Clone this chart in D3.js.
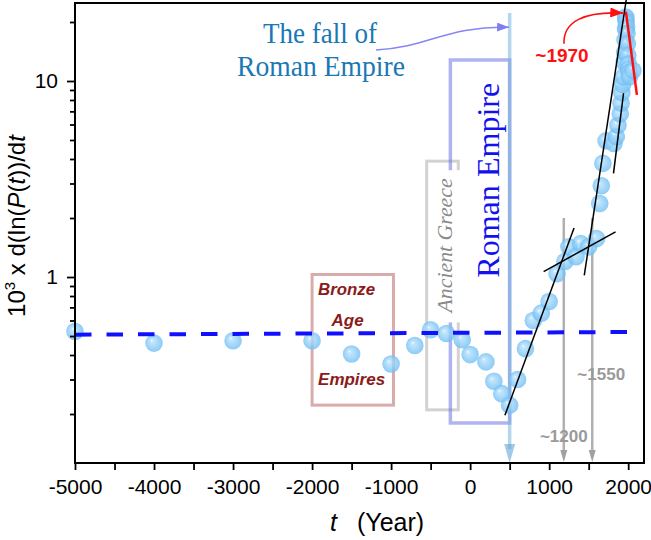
<!DOCTYPE html>
<html><head><meta charset="utf-8">
<script src="https://cdn.jsdelivr.net/npm/d3@7"></script>
<style>body{margin:0;background:#fff}svg{display:block}</style>
</head><body><svg id="c" width="651" height="540"></svg>
<script>
// ---- data ----
const years = [-5000,-4000,-3000,-2000,-1500,-1000,-700,-500,-300,-100,
  0,200,300,400,500,600,700,800,900,1000,
  1100,1200,1250,1340,1400,1500,1600,1640,1660,1680,
  1720,1820,1850,1870,1900,1910,1920,1930,1940,1950,
  1955,1960,1965,1968,1970,1975,1980,1985,1990,1995,
  2000,2005,2010,2015,2060];
const rates = [0.527,0.46,0.473,0.473,0.405,0.36,0.447,0.538,0.515,0.479,
  0.402,0.369,0.294,0.254,0.222,0.30,0.431,0.60,0.654,0.75,
  1.04,1.2,1.425,1.27,1.48,1.425,1.57,2.37,2.92,3.8,
  4.95,4.8,5.2,5.95,6.8,7.7,8.7,9.6,10.5,12.5,
  14,16.2,18.5,20.8,21.2,20.0,18.8,17.5,15.5,13.5,
  12.2,11.5,11,10.5,11.3];
const xTickValues = [-5000,-4000,-3000,-2000,-1000,0,1000,2000];
const yTickLabels = [1, 10];
const trendYears = [-5000, 2020];
const trendRates = [0.508, 0.524];
const fitA = [[440, 0.197], [1315, 1.78]];
const fitB = [[930, 1.065], [1840, 1.70]];
const fitC = [[1444, 1.02], [1975, 25.9]];
const fitD = [[1814, 3.38], [1941, 8.67]];
const fitRed = [[1971, 22.6], [2110, 8.5]];
const fallYear = 500;
const markerYears = [1185, 1545];
const romanBox = [[-250, 500], [0.18, 12.8]];
const greekBox = [[-550, -150], [0.21, 3.9]];
const bronzeBox = [[-2000, -970], [0.222, 1.03]];

// ---- scales ----
const svg = d3.select("#c");
const x = d3.scaleLinear().domain([-5000, 2200]).range([75, 644]);
const y = d3.scaleLog().domain([0.1125, 25]).range([463, 3]);
const SANS = "'Liberation Sans', Arial, sans-serif";
const SERIF = "'Liberation Serif', 'Times New Roman', serif";

const defs = svg.append("defs");
const grad = defs.append("radialGradient").attr("id","bub")
  .attr("cx","50%").attr("cy","50%").attr("r","50%").attr("fx","36%").attr("fy","34%");
grad.append("stop").attr("offset","0%").attr("stop-color","#ffffff");
grad.append("stop").attr("offset","16%").attr("stop-color","#b4e0fd");
grad.append("stop").attr("offset","100%").attr("stop-color","#6cbcf3");
function marker(id, color, w, h) {
  defs.append("marker").attr("id", id).attr("viewBox", `0 0 ${w} ${h}`)
    .attr("refX", w).attr("refY", h/2).attr("markerWidth", w).attr("markerHeight", h)
    .attr("markerUnits","userSpaceOnUse").attr("orient","auto")
    .append("path").attr("d", `M0,0L${w},${h/2}L0,${h}Z`).attr("fill", color);
}
marker("arRed", "#ff1010", 13, 10);
marker("arFall", "#7f7ff2", 12, 9);

// ---- boxes ----
function box(b, stroke, sw) {
  svg.append("rect").attr("x", x(b[0][0])).attr("y", y(b[1][1]))
    .attr("width", x(b[0][1]) - x(b[0][0])).attr("height", y(b[1][0]) - y(b[1][1]))
    .attr("fill","none").attr("stroke", stroke).attr("stroke-width", sw);
}
box(bronzeBox, "rgba(170,70,70,0.45)", 3);
box(greekBox, "#d2d2d2", 3);
box(romanBox, "rgba(95,105,225,0.5)", 3.5);

// Ancient Greece label with white backdrop
const agY = (y(3.5) + y(0.6)) / 2;
const ag = svg.append("g").attr("transform", `translate(${x(greekBox[0][1]) - 6},${agY}) rotate(-90)`);
const agBg = ag.append("rect").attr("fill","#fff");
const agT = ag.append("text").attr("text-anchor","middle").attr("font-family", SERIF)
  .attr("font-style","italic").attr("font-size", 22).attr("fill","#8a8a8a")
  .attr("textLength", 134).attr("lengthAdjust","spacingAndGlyphs").text("Ancient Greece");
const bb = agT.node().getBBox();
agBg.attr("x", bb.x - 8).attr("y", bb.y).attr("width", bb.width + 16).attr("height", bb.height + 5);

// fall of Rome vertical line + arrowhead
svg.append("line").attr("x1", x(fallYear)).attr("x2", x(fallYear))
  .attr("y1", y(22.2)).attr("y2", y.range()[0] - 14)
  .attr("stroke","rgba(120,180,220,0.55)").attr("stroke-width", 3.5);
svg.append("path").attr("d", `M${x(fallYear)-5.5},${y.range()[0]-19}L${x(fallYear)+5.5},${y.range()[0]-19}L${x(fallYear)},${y.range()[0]}Z`)
  .attr("fill","rgba(100,165,215,0.6)");

// gray year markers
markerYears.forEach(t => {
  svg.append("line").attr("x1", x(t)).attr("x2", x(t)).attr("y1", y(2.0)).attr("y2", y.range()[0] - 10)
    .attr("stroke","#b0b0b0").attr("stroke-width", 2.5);
  svg.append("path").attr("d", `M${x(t)-3.5},${y.range()[0]-13}L${x(t)+3.5},${y.range()[0]-13}L${x(t)},${y.range()[0]-1}Z`)
    .attr("fill","#a0a0a0");
});

// texts
svg.append("text").attr("x", 320).attr("y", 43).attr("text-anchor","middle")
  .attr("font-family", SERIF).attr("font-size", 29).attr("fill","#1a78b4")
  .attr("textLength", 114).attr("lengthAdjust","spacingAndGlyphs").text("The fall of");
svg.append("text").attr("x", 321).attr("y", 76).attr("text-anchor","middle")
  .attr("font-family", SERIF).attr("font-size", 29).attr("fill","#1a78b4")
  .attr("textLength", 168).attr("lengthAdjust","spacingAndGlyphs").text("Roman Empire");
svg.append("text").attr("transform", `translate(${x(fallYear) - 11},${(y(12.8)+y(0.6))/2 - 10}) rotate(-90)`)
  .attr("text-anchor","middle").attr("font-family", SERIF).attr("font-size", 32).attr("fill","#1212ee")
  .attr("textLength", 195).attr("lengthAdjust","spacingAndGlyphs").text("Roman Empire");
const brx = x(bronzeBox[0][0]);
[["Bronze", 6, 295, 57], ["Age", 19.5, 326, 32], ["Empires", 6, 385, 67]].forEach(d => {
  svg.append("text").attr("x", brx + d[1]).attr("y", d[2]).attr("font-family", SANS)
    .attr("font-weight","bold").attr("font-style","italic").attr("font-size", 17)
    .attr("fill","#8b1a1a").attr("textLength", d[3]).attr("lengthAdjust","spacingAndGlyphs").text(d[0]);
});
svg.append("text").attr("x", 562).attr("y", 62).attr("text-anchor","middle").attr("font-family", SANS)
  .attr("font-weight","bold").attr("font-size", 19).attr("fill","#ff1010").text("~1970");
svg.append("text").attr("x", x(markerYears[1]) + 9).attr("y", 380).attr("text-anchor","middle").attr("font-family", SANS)
  .attr("font-weight","bold").attr("font-size", 17).attr("fill","#9a9a9a").text("~1550");
svg.append("text").attr("x", x(markerYears[0])).attr("y", 442).attr("text-anchor","middle").attr("font-family", SANS)
  .attr("font-weight","bold").attr("font-size", 17).attr("fill","#9a9a9a").text("~1200");

// points
svg.append("g").selectAll("circle").data(years.map((t,i)=>[t,rates[i]])).join("circle")
  .attr("cx", d => x(d[0])).attr("cy", d => y(d[1])).attr("r", 8.8)
  .attr("fill","url(#bub)").attr("fill-opacity", 0.78);

// trend dashed line
svg.append("line").attr("x1", x(trendYears[0])).attr("y1", y(trendRates[0]))
  .attr("x2", x(trendYears[1])).attr("y2", y(trendRates[1]))
  .attr("stroke","#1010ff").attr("stroke-width", 4).attr("stroke-dasharray","16.5,15");

// fit lines
[fitA, fitB, fitC, fitD].forEach(f => {
  svg.append("line").attr("x1", x(f[0][0])).attr("y1", y(f[0][1])).attr("x2", x(f[1][0])).attr("y2", y(f[1][1]))
    .attr("stroke","#000").attr("stroke-width", 1.5);
});
svg.append("line").attr("x1", x(fitRed[0][0])).attr("y1", y(fitRed[0][1])).attr("x2", x(fitRed[1][0])).attr("y2", y(fitRed[1][1]))
  .attr("stroke","#ff1010").attr("stroke-width", 2.5);

// curved arrows
const fs = [x(-1191), y(14.4)], fe = [x(493), y(18.8)];
svg.append("path").attr("d", `M${fs[0]},${fs[1]}C${fs[0]+54},${fs[1]-3} ${fe[0]-64},${fe[1]-1} ${fe[0]},${fe[1]}`)
  .attr("fill","none").attr("stroke","#8686f4").attr("stroke-width", 1.6).attr("marker-end","url(#arFall)");
const rs = [x(1188), y(15.5)], re = [x(1938), y(22.2)];
svg.append("path").attr("d", `M${rs[0]},${rs[1]}C${rs[0]-1},${rs[1]-22} ${rs[0]+20},${re[1]-2} ${re[0]},${re[1]}`)
  .attr("fill","none").attr("stroke","#ff1010").attr("stroke-width", 1.6).attr("marker-end","url(#arRed)");

// axes
const xAx = svg.append("g").attr("transform", `translate(0,${y.range()[0]})`)
  .call(d3.axisBottom(x).tickValues(d3.range(-5000, 2201, 500)).tickSize(7).tickPadding(9)
    .tickFormat(d => xTickValues.includes(d) ? String(d) : ""));
xAx.select(".domain").remove();
xAx.selectAll("line").attr("stroke-width", 1.8);
xAx.selectAll("text").attr("font-family", SANS).attr("font-size", 21).attr("fill","#000");

const yMinor = [0.2,0.3,0.4,0.5,0.6,0.7,0.8,0.9,2,3,4,5,6,7,8,9,20];
const yAx = svg.append("g").attr("transform", `translate(${x.range()[0]},0)`)
  .call(d3.axisLeft(y).tickValues(yMinor.concat(yTickLabels).sort((a,b)=>a-b)).tickSize(5).tickPadding(12)
    .tickFormat(d => yTickLabels.includes(d) ? String(d) : ""));
yAx.select(".domain").remove();
yAx.selectAll(".tick").filter(d => yTickLabels.includes(d)).select("line").attr("x2", -8);
yAx.selectAll("line").attr("stroke-width", 1.8);
yAx.selectAll("text").attr("font-family", SANS).attr("font-size", 21).attr("fill","#000");

// frame
svg.append("rect").attr("x", x.range()[0]).attr("y", y.range()[1])
  .attr("width", x.range()[1] - x.range()[0]).attr("height", y.range()[0] - y.range()[1])
  .attr("fill","none").attr("stroke","#000").attr("stroke-width", 2);

// axis titles
const xt = svg.append("text").attr("y", 531).attr("font-family", SANS).attr("font-size", 25).attr("fill","#000");
xt.append("tspan").attr("x", 330).attr("font-style","italic").text("t");
xt.append("tspan").attr("x", 357).text("(Year)");
const yt = svg.append("text").attr("transform","translate(25,226) rotate(-90)").attr("text-anchor","middle")
  .attr("font-family", SANS).attr("font-size", 24).attr("fill","#000");
yt.append("tspan").text("10");
yt.append("tspan").attr("font-size", 15).attr("dy", -10).text("3");
yt.append("tspan").attr("dy", 10).text(" x d(ln(");
yt.append("tspan").attr("font-style","italic").text("P");
yt.append("tspan").text("(");
yt.append("tspan").attr("font-style","italic").text("t");
yt.append("tspan").text("))/d");
yt.append("tspan").attr("font-style","italic").text("t");
</script></body></html>
